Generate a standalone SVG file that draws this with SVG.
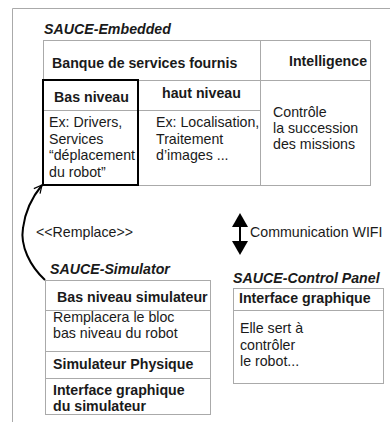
<svg xmlns="http://www.w3.org/2000/svg" width="390" height="422" viewBox="0 0 390 422">
<defs>
<style>
.t{font-family:"Liberation Sans",Arial,sans-serif;font-size:14.2px;fill:#1a1a1a}
.b{font-weight:bold}
.ti{font-weight:bold;font-style:italic}
.g{fill:#fff;stroke:#aaa;stroke-width:1}
.gl{stroke:#aaa;stroke-width:1;fill:none}
</style>
<marker id="ah" viewBox="0 0 10 10" refX="9" refY="5" markerWidth="5" markerHeight="5" orient="auto" markerUnits="strokeWidth">
<path d="M1,1 L9,5 L1,9" fill="none" stroke="#000" stroke-width="1.2"/>
</marker>
</defs>
<rect width="390" height="422" fill="#fff"/>
<path class="gl" d="M12.5,422 V8.5 H390"/>

<g id="embedded">
<text class="t ti" x="44" y="34">SAUCE-Embedded</text>
<rect class="g" x="43.5" y="40.5" width="327" height="145"/>
<line class="gl" x1="260.5" y1="40" x2="260.5" y2="185"/>
<line class="gl" x1="43" y1="80.5" x2="371" y2="80.5"/>
<line class="gl" x1="43" y1="110.5" x2="260" y2="110.5"/>
<text class="t b" x="52" y="68">Banque de services fournis</text>
<text class="t b" x="289" y="66">Intelligence</text>
<text class="t b" x="162" y="98">haut niveau</text>
<text class="t"><tspan x="156" y="127">Ex: Localisation,</tspan><tspan x="156" y="143.5">Traitement</tspan><tspan x="156" y="160">d’images ...</tspan></text>
<text class="t"><tspan x="273" y="117">Contrôle</tspan><tspan x="273" y="133">la succession</tspan><tspan x="273" y="149">des missions</tspan></text>
</g>

<g id="bas-niveau">
<rect x="43" y="80" width="95" height="105" fill="none" stroke="#000" stroke-width="2"/>
<text class="t b" x="54" y="102">Bas niveau</text>
<text class="t"><tspan x="49" y="127">Ex: Drivers,</tspan><tspan x="49" y="143.5">Services</tspan><tspan x="49" y="160">“déplacement</tspan><tspan x="49" y="176.5">du robot”</tspan></text>
</g>

<g id="simulator">
<text class="t ti" x="50" y="274">SAUCE-Simulator</text>
<rect class="g" x="45.5" y="280.5" width="165" height="134"/>
<line class="gl" x1="45" y1="310.5" x2="211" y2="310.5"/>
<line class="gl" x1="45" y1="351.5" x2="211" y2="351.5"/>
<line class="gl" x1="45" y1="378.5" x2="211" y2="378.5"/>
<text class="t b" x="57" y="302">Bas niveau simulateur</text>
<text class="t"><tspan x="53" y="322">Remplacera le bloc</tspan><tspan x="53" y="338">bas niveau du robot</tspan></text>
<text class="t b" x="53" y="369">Simulateur Physique</text>
<text class="t b"><tspan x="53" y="395">Interface graphique</tspan><tspan x="53" y="411">du simulateur</tspan></text>
</g>

<g id="control-panel">
<text class="t ti" x="233" y="283">SAUCE-Control Panel</text>
<rect class="g" x="233.5" y="288.5" width="150" height="95"/>
<line class="gl" x1="233" y1="310.5" x2="384" y2="310.5"/>
<text class="t b" x="239" y="303">Interface graphique</text>
<text class="t"><tspan x="240" y="333">Elle sert à</tspan><tspan x="240" y="349.5">contrôler</tspan><tspan x="240" y="366">le robot...</tspan></text>
</g>

<g id="connectors">
<path d="M45,280 C30,266 20,246 23,228 C25,212 33,196 42,185" fill="none" stroke="#000" stroke-width="2" marker-end="url(#ah)"/>
<text class="t" x="36" y="237">&lt;&lt;Remplace&gt;&gt;</text>
<line x1="240" y1="224" x2="240" y2="244" stroke="#000" stroke-width="2"/>
<path d="M232,227 L240,213 L248,227 z" fill="#000"/>
<path d="M232,241 L240,255 L248,241 z" fill="#000"/>
<text class="t" x="250" y="237">Communication WIFI</text>
</g>
</svg>
